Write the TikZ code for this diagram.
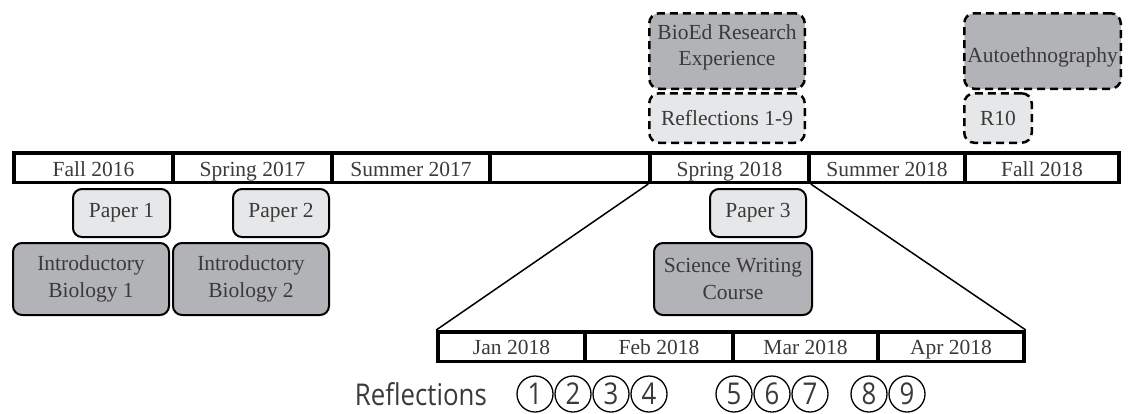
\documentclass[tikz,border=0pt]{standalone}
\usepackage{fontspec}
\setmainfont{Liberation Serif}
\newfontfamily\refsans{Open Sans}
\definecolor{lightfill}{RGB}{230,231,232}
\definecolor{darkfill}{RGB}{178,179,182}
\definecolor{txtgray}{RGB}{58,58,58}
\newcommand\serifsz{\fontsize{21.5pt}{26.5pt}\selectfont}
\newcommand\sanssz{\refsans\fontsize{30pt}{34pt}\selectfont}
\newcommand\narrowtxt[1]{\scalebox{0.86}[1]{#1}}
\begin{document}
\begin{tikzpicture}[x=1pt,y=-1pt,
  seg/.style={draw, line width=3.5pt, inner sep=0pt, minimum height=29.5pt,
    text height=20pt, text depth=2pt, font=\serifsz, text=txtgray},
  mseg/.style={seg, text height=17pt, text depth=2pt},
  solidbox/.style={draw, line width=2pt, rounded corners=9pt, inner sep=0pt,
    align=center, font=\serifsz, text=txtgray},
  lightbox/.style={solidbox, fill=lightfill, minimum height=48pt},
  darkbox/.style={solidbox, fill=darkfill, minimum height=72pt},
  dashbox/.style={draw, line width=2.5pt, dash pattern=on 8pt off 5pt,
    rounded corners=10pt, inner sep=0pt, align=center, font=\serifsz, text=txtgray},
  numcirc/.style={draw, circle, line width=1.3pt, minimum size=36pt, inner sep=0pt,
    font=\sanssz, text=txtgray},
  zoomline/.style={line width=1.5pt}
]
\useasboundingbox (0,0) rectangle (1129,413);

% main timeline
\node[seg, minimum width=159pt] (s1) at (93.5,167.5) {Fall 2016};
\node[seg, minimum width=159pt] (s2) at (252.5,167.5) {Spring 2017};
\node[seg, minimum width=158pt] (s3) at (411,167.5) {Summer 2017};
\node[seg, minimum width=160pt] (s4) at (570,167.5) {};
\node[seg, minimum width=159pt] (s5) at (729.5,167.5) {Spring 2018};
\node[seg, minimum width=156pt] (s6) at (887,167.5) {Summer 2018};
\node[seg, minimum width=154pt] (s7) at (1042,167.5) {Fall 2018};

% zoomed timeline
\node[mseg, minimum width=147pt] (jan) at (511.5,346.5) {Jan 2018};
\node[mseg, minimum width=148pt] (feb) at (659,346.5) {Feb 2018};
\node[mseg, minimum width=145pt] (mar) at (805.5,346.5) {Mar 2018};
\node[mseg, minimum width=146pt] (apr) at (951,346.5) {Apr 2018};

\draw[zoomline] (s5.south west) -- (jan.north west);
\draw[zoomline] (s5.south east) -- (apr.north east);

% boxes below
\node[lightbox, minimum width=97pt] (p1) at (121.5,213) {Paper 1};
\node[lightbox, minimum width=96pt] (p2) at (281,213) {Paper 2};
\node[lightbox, minimum width=96pt] (p3) at (758,213) {Paper 3};
\node[darkbox, minimum width=156pt] (ib1) at (91,279) {Introductory\\Biology 1};
\node[darkbox, minimum width=156pt] (ib2) at (251,279) {Introductory\\Biology 2};
\node[darkbox, minimum width=158pt] (sw) at (733,279) {Science Writing\\Course};

% dashed boxes above
\node[dashbox, fill=darkfill, minimum width=155.5pt, minimum height=75.5pt] (bio) at (727,51) {BioEd Research\\Experience\rule[-12pt]{0pt}{12pt}};
\node[dashbox, fill=lightfill, minimum width=155.5pt, minimum height=49.5pt] (r19) at (727,118) {Reflections 1-9};
\node[dashbox, fill=darkfill, minimum width=156.5pt, minimum height=75.5pt, text height=27pt, text depth=5pt] (auto) at (1042.5,51) {Autoethnography};
\node[dashbox, fill=lightfill, minimum width=67.5pt, minimum height=49.5pt] (r10) at (998,118) {R10};

% reflections row
\node[anchor=base east, inner sep=0pt, font=\sanssz, text=txtgray] (reflab) at (487,405) {\narrowtxt{Reflections}};
\foreach \n/\x in {1/535,2/573,3/611,4/649,5/734,6/772,7/810,8/869,9/907}{
  \node[numcirc] (c\n) at (\x,394) {\narrowtxt{\n}};
}
\end{tikzpicture}
\end{document}
